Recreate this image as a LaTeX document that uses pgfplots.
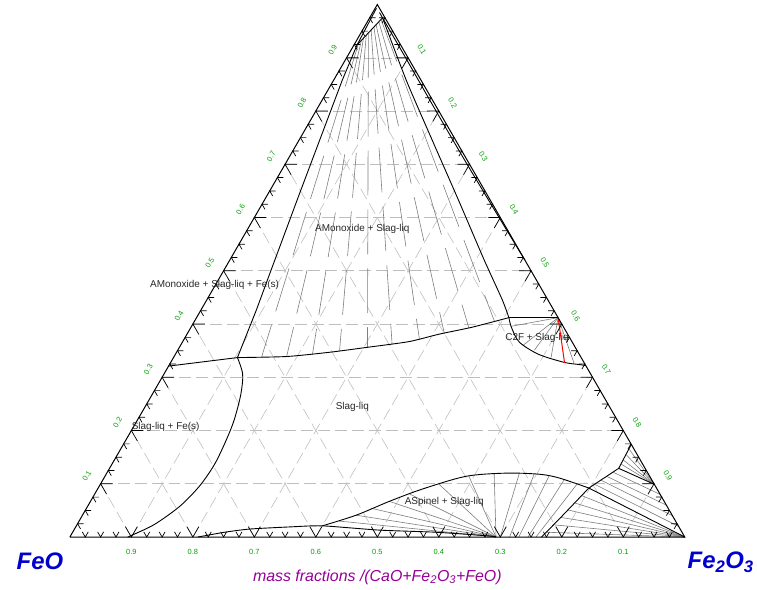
\documentclass[border=0pt]{standalone}
\usepackage{pgfplots}
\pgfplotsset{compat=1.18}
\usepackage{fontspec}
\setmainfont{Liberation Sans}

\definecolor{ticklab}{RGB}{0,160,0}
\definecolor{cornerlab}{RGB}{0,0,205}
\definecolor{titlelab}{RGB}{150,0,150}
\definecolor{gridgray}{RGB}{190,190,190}
\definecolor{tiegray}{RGB}{125,125,125}

% ternary (F = Fe2O3, C = CaO) mass fractions -> Cartesian, FeO corner at the origin
\pgfplotsset{
  tern/.style={x expr=\thisrow{F}+0.5*\thisrow{C}, y expr=0.8660254*\thisrow{C}, row sep=\\},
  table/tern/.style={x expr=\thisrow{F}+0.5*\thisrow{C}, y expr=0.8660254*\thisrow{C}, row sep=\\},
  phase/.style={black, line width=0.9bp, mark=none},
  tie/.style={tiegray, line width=0.6bp, mark=none},
  tiedash/.style={tiegray, line width=0.6bp, mark=none, dash pattern=on 45bp off 14bp},
}
% one tie line between two compositions
\newcommand{\tie}[5][tie]{\addplot[#1] table[tern]{F C\\ #2 #3\\ #4 #5\\};}

\begin{document}
\begin{tikzpicture}
\begin{axis}[hide axis, x=616bp, y=616bp,
  xmin=-0.11364, xmax=1.11526, ymin=-0.08604, ymax=0.87338,
  clip=false, scale only axis]
\path (rel axis cs:0,0) rectangle (rel axis cs:1,1);

% dashed composition grid
\pgfplotsextra{
\foreach \v in {0.1,0.2,...,0.9}{
  \draw[gridgray, line width=0.6bp, dash pattern=on 12bp off 5bp]
    (axis cs:{\v/2},{0.8660254*\v}) -- (axis cs:{1-\v/2},{0.8660254*\v});
  \draw[gridgray, line width=0.6bp, dash pattern=on 12bp off 5bp]
    (axis cs:\v,0) -- (axis cs:{\v+(1-\v)/2},{0.8660254*(1-\v)});
  \draw[gridgray, line width=0.6bp, dash pattern=on 12bp off 5bp]
    (axis cs:{1-\v},0) -- (axis cs:{(1-\v)/2},{0.8660254*(1-\v)});
}}

% tie lines, AMonoxide + Slag-liq
\tie[tiedash]{0.020}{0.972}{0.488}{0.405}
\tie[tiedash]{0.019}{0.967}{0.453}{0.392}
\tie[tiedash]{0.017}{0.962}{0.418}{0.382}
\tie[tiedash]{0.016}{0.957}{0.383}{0.371}
\tie[tiedash]{0.014}{0.952}{0.343}{0.362}
\tie[tiedash]{0.012}{0.947}{0.306}{0.356}
\tie[tiedash]{0.011}{0.942}{0.264}{0.349}
\tie[tiedash]{0.009}{0.937}{0.223}{0.343}
\tie[tiedash]{0.008}{0.932}{0.183}{0.339}
\tie[tiedash]{0.006}{0.927}{0.143}{0.337}

% tie lines, C2F + Slag-liq
\tie{0.588}{0.412}{0.521}{0.396}
\tie{0.588}{0.412}{0.557}{0.360}
\tie{0.588}{0.412}{0.580}{0.351}
\tie{0.588}{0.412}{0.614}{0.337}
\tie{0.588}{0.412}{0.657}{0.326}

% tie lines, ASpinel + Slag-liq
\tie{0.693}{0}{0.423}{0.030}
\tie{0.693}{0}{0.445}{0.041}
\tie{0.693}{0}{0.463}{0.054}
\tie{0.693}{0}{0.486}{0.067}
\tie{0.693}{0}{0.512}{0.081}
\tie{0.693}{0}{0.551}{0.099}
\tie{0.693}{0}{0.592}{0.114}
\tie{0.693}{0}{0.630}{0.120}
\tie{0.700}{0}{0.671}{0.120}
\tie{0.715}{0}{0.696}{0.118}
\tie{0.730}{0}{0.722}{0.114}
\tie{0.745}{0}{0.750}{0.108}
\tie{0.758}{0}{0.775}{0.099}

% tie lines near the Fe2O3 corner
\tie{1}{0}{0.793}{0.078}
\tie{1}{0}{0.789}{0.064}
\tie{1}{0}{0.784}{0.051}
\tie{1}{0}{0.779}{0.037}
\tie{1}{0}{0.775}{0.023}
\tie{1}{0}{0.771}{0.009}
\tie{0.827}{0.165}{0.901}{0.099}
\tie{0.827}{0.155}{0.901}{0.099}
\tie{0.827}{0.145}{0.901}{0.099}
\tie{0.828}{0.137}{0.901}{0.099}
\tie{0.822}{0.122}{0.920}{0.080}
\tie{0.816}{0.114}{0.940}{0.060}
\tie{0.810}{0.107}{0.960}{0.040}
\tie{0.804}{0.099}{0.980}{0.020}

% phase boundaries
\addplot[phase] table[tern]{F C\\ 0.002 0.993\\ 0.005 0.924\\ 0.014 0.858\\ 0.051 0.645\\ 0.077 0.499\\ 0.090 0.427\\ 0.104 0.337\\};
\addplot[phase, smooth, tension=0.5] table[tern]{F C\\ 0.104 0.337\\ 0.128 0.306\\ 0.144 0.268\\ 0.157 0.221\\ 0.163 0.184\\ 0.167 0.137\\ 0.163 0.096\\ 0.150 0.058\\ 0.126 0.024\\ 0.100 0.004\\ 0.094 0\\};
\addplot[phase] table[tern]{F C\\ 0 0.321\\ 0.104 0.337\\};
\addplot[phase, smooth, tension=0.4] table[tern]{F C\\ 0.104 0.337\\ 0.183 0.339\\ 0.249 0.347\\ 0.304 0.356\\ 0.368 0.367\\ 0.410 0.381\\ 0.457 0.394\\ 0.508 0.412\\};
\addplot[phase, smooth, tension=0.4] table[tern]{F C\\ 0.021 0.975\\ 0.118 0.858\\ 0.216 0.746\\ 0.318 0.630\\ 0.413 0.521\\ 0.480 0.446\\ 0.508 0.412\\};
\addplot[phase] table[tern]{F C\\ 0.021 0.975\\ 0.005 0.924\\};
\addplot[phase, smooth, tension=0.4] table[tern]{F C\\ 0.011 0.985\\ 0.096 0.900\\ 0.1955 0.800\\ 0.296 0.700\\ 0.398 0.600\\ 0.480 0.520\\};
\addplot[phase] table[tern]{F C\\ 0.508 0.412\\ 0.588 0.412\\};
\addplot[phase, smooth, tension=0.5] table[tern]{F C\\ 0.508 0.412\\ 0.521 0.394\\ 0.548 0.366\\ 0.591 0.343\\ 0.640 0.328\\ 0.666 0.324\\ 0.678 0.322\\};
\addplot[red, line width=1bp] table[tern]{F C\\ 0.588 0.412\\ 0.641 0.327\\};
\addplot[phase, smooth, tension=0.5] table[tern]{F C\\ 0.400 0.021\\ 0.445 0.041\\ 0.486 0.067\\ 0.528 0.090\\ 0.587 0.114\\ 0.649 0.120\\ 0.704 0.118\\ 0.740 0.111\\ 0.798 0.092\\};
\addplot[phase, smooth, tension=0.4] table[tern]{F C\\ 0.208 0\\ 0.247 0.009\\ 0.285 0.015\\ 0.348 0.019\\ 0.400 0.021\\ 0.497 0.013\\ 0.591 0.009\\ 0.681 0.002\\ 0.693 0\\};
\addplot[phase] table[tern]{F C\\ 0.826 0.174\\ 0.828 0.129\\ 0.901 0.099\\};
\addplot[phase] table[tern]{F C\\ 0.828 0.129\\ 0.798 0.092\\ 1 0\\};
\addplot[phase] table[tern]{F C\\ 0.798 0.092\\ 0.779 0.034\\ 0.767 0\\};

% triangle
\addplot[black, line width=1bp, line join=miter] table[tern]{F C\\ 0 0\\ 1 0\\ 0 1\\ 0 0\\};

% edge ticks and tick labels
\pgfplotsextra{
\foreach \i in {1,...,39}{
  \pgfmathsetmacro\t{\i/40}
  \pgfmathsetmacro\L{mod(\i,4)==0 ? 0.0195 : 0.0097}
  \pgfmathsetmacro\hx{0.5*\L}
  \pgfmathsetmacro\hy{0.8660254*\L}
  \draw[black, line width=0.7bp] (axis cs:{\t-\hx},\hy) -- (axis cs:\t,0) -- (axis cs:{\t+\hx},\hy);
  \pgfmathsetmacro\lx{\t/2}
  \pgfmathsetmacro\ly{0.8660254*\t}
  \draw[black, line width=0.7bp] (axis cs:{\lx+\L},\ly) -- (axis cs:\lx,\ly) -- (axis cs:{\lx+\hx},{\ly-\hy});
  \pgfmathsetmacro\rx{0.5+\t/2}
  \pgfmathsetmacro\ry{0.8660254*(1-\t)}
  \draw[black, line width=0.7bp] (axis cs:{\rx-\L},\ry) -- (axis cs:\rx,\ry) -- (axis cs:{\rx-\hx},{\ry-\hy});
}
\foreach \k in {1,...,9}{
  \pgfmathsetmacro\t{\k/10}
  \node[text=ticklab, font=\fontsize{7.5}{8}\selectfont] at (axis cs:{1-\t},-0.0244) {0.\k};
  \node[text=ticklab, font=\fontsize{7.5}{8}\selectfont, rotate=60] at (axis cs:{\t/2-0.0225},{0.8660254*\t+0.013}) {0.\k};
  \node[text=ticklab, font=\fontsize{7.5}{8}\selectfont, rotate=-60] at (axis cs:{0.5+\t/2+0.0225},{0.8660254*(1-\t)+0.013}) {0.\k};
}}

% corner and axis titles
\node[text=cornerlab, font=\fontsize{24}{28}\selectfont\bfseries\itshape] at (axis cs:-0.0487,-0.039) {FeO};
\node[text=cornerlab, font=\fontsize{24}{28}\selectfont\bfseries\itshape] at (axis cs:1.0584,-0.0406) {Fe\textsubscript{2}O\textsubscript{3}};
\node[text=titlelab, font=\fontsize{16}{18}\selectfont\itshape] at (axis cs:0.5,-0.0649) {mass fractions /(CaO+Fe\textsubscript{2}O\textsubscript{3}+FeO)};

% phase field names
\node[font=\fontsize{10}{12}\selectfont, text=black!85] at (axis cs:0.4756,0.5016) {AMonoxide + Slag-liq};
\node[font=\fontsize{10}{12}\selectfont, text=black!85] at (axis cs:0.2354,0.4107) {AMonoxide + Slag-liq + Fe(s)};
\node[font=\fontsize{10}{12}\selectfont, text=black!85] at (axis cs:0.7597,0.3231) {C2F + Slag-liq};
\node[font=\fontsize{10}{12}\selectfont, text=black!85] at (axis cs:0.4594,0.2110) {Slag-liq};
\node[font=\fontsize{10}{12}\selectfont, text=black!85] at (axis cs:0.1558,0.1786) {Slag-liq + Fe(s)};
\node[font=\fontsize{10}{12}\selectfont, text=black!85] at (axis cs:0.6088,0.0568) {ASpinel + Slag-liq};
\end{axis}
\end{tikzpicture}
\end{document}
